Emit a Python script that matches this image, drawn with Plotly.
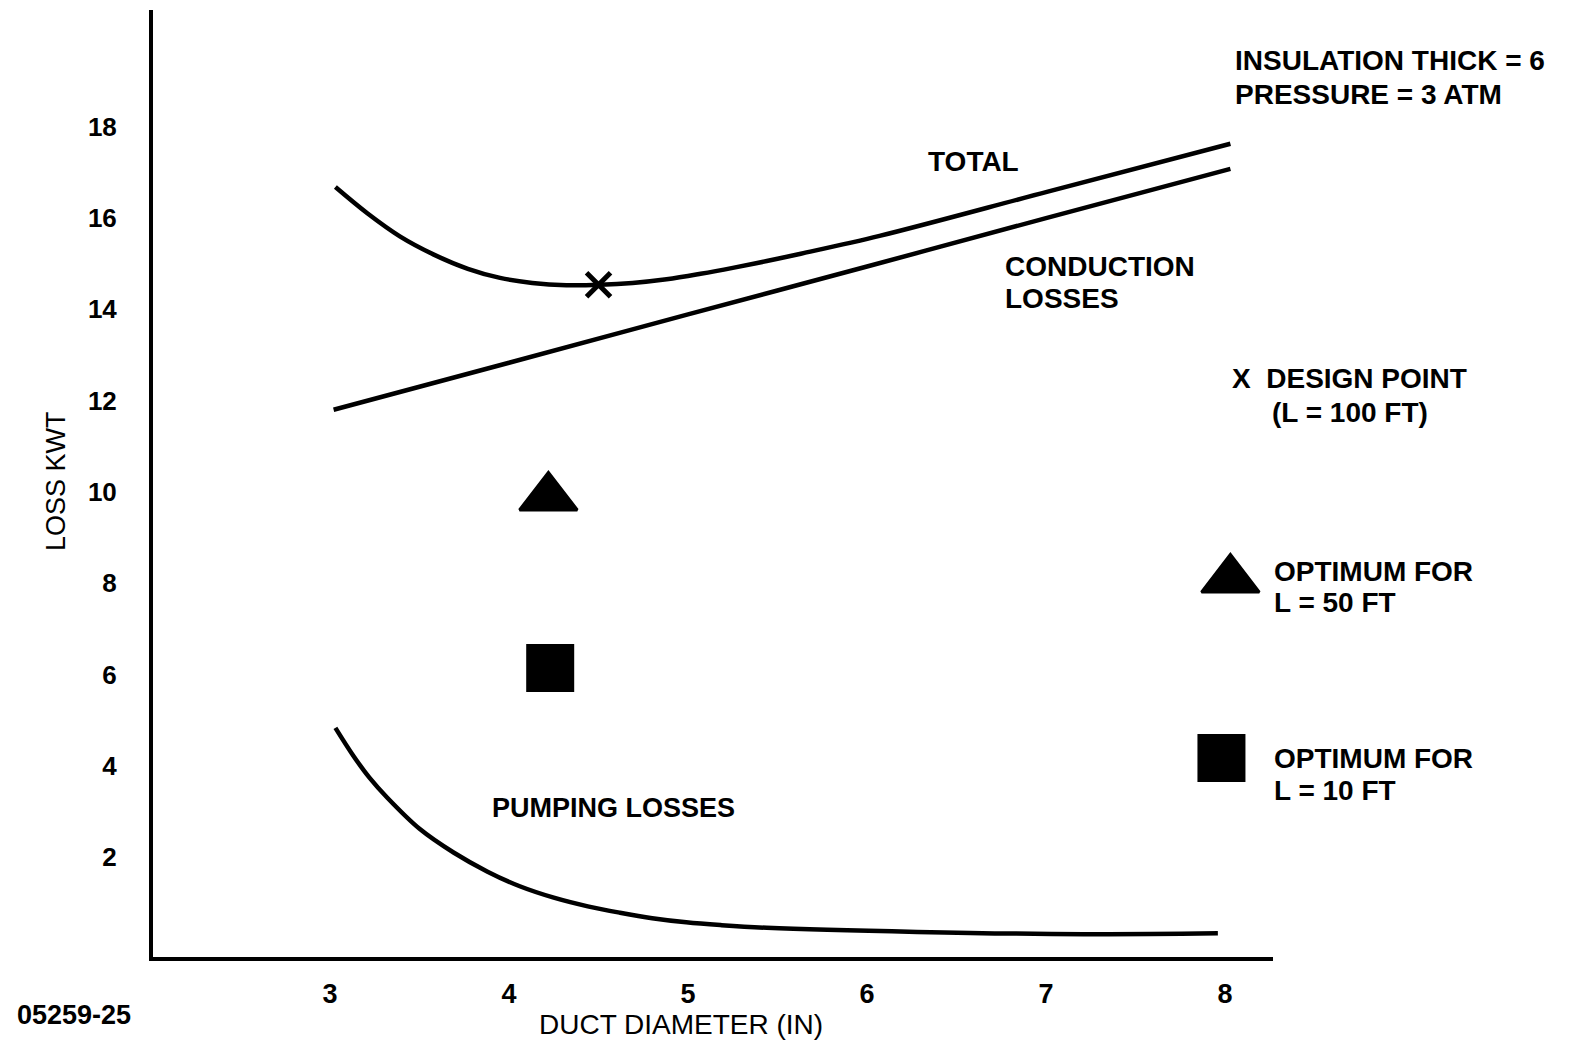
import plotly.graph_objects as go

# ---- data ----
total_x = [3.03, 3.21, 3.39, 3.58, 3.77, 3.95, 4.13, 4.32, 4.51, 4.69, 4.88, 5.07, 5.25, 5.44, 5.63, 6.07, 7.01, 8.03]
total_y = [16.68, 16.10, 15.60, 15.20, 14.89, 14.69, 14.58, 14.53, 14.54, 14.58, 14.66, 14.78, 14.91, 15.06, 15.22, 15.61, 16.58, 17.63]

cond_x = [3.02, 4.0, 5.0, 6.0, 7.0, 8.03]
cond_y = [11.80, 12.83, 13.89, 14.94, 16.00, 17.08]

pump_x = [3.03, 3.13, 3.22, 3.32, 3.50, 3.69, 3.88, 4.06, 4.25, 4.44, 4.62, 4.80, 4.99, 5.18, 5.44, 6.28, 7.21, 7.96]
pump_y = [4.83, 4.22, 3.74, 3.30, 2.62, 2.10, 1.68, 1.36, 1.11, 0.92, 0.78, 0.66, 0.57, 0.51, 0.45, 0.36, 0.31, 0.33]

design_x = [4.50]
design_y = [14.54]
opt50_x = [4.22]
opt50_y = [9.88]
opt10_x = [4.23]
opt10_y = [6.14]

# legend keys
key50_x = [8.03]
key50_y = [8.08]
key10_x = [7.98]
key10_y = [4.17]

x_ticks = [3, 4, 5, 6, 7, 8]
y_ticks = [2, 4, 6, 8, 10, 12, 14, 16, 18]

FONT = "Liberation Sans, Arial, sans-serif"
LW = 4.5

fig = go.Figure()
for xs, ys in [(total_x, total_y), (cond_x, cond_y), (pump_x, pump_y)]:
    fig.add_trace(go.Scatter(x=xs, y=ys, mode="lines",
                             line=dict(color="black", width=LW, shape="spline", smoothing=1.0),
                             showlegend=False, hoverinfo="skip"))

fig.add_trace(go.Scatter(x=design_x, y=design_y, mode="markers",
                         marker=dict(symbol="x-thin", size=24, color="black",
                                     line=dict(color="black", width=5)),
                         showlegend=False, cliponaxis=False))
for xs, ys in [(opt50_x, opt50_y), (key50_x, key50_y)]:
    fig.add_trace(go.Scatter(x=xs, y=ys, mode="markers",
                             marker=dict(symbol="triangle-up", size=50, color="black",
                                         line=dict(color="black", width=3)),
                             showlegend=False, cliponaxis=False))
for xs, ys in [(opt10_x, opt10_y), (key10_x, key10_y)]:
    fig.add_trace(go.Scatter(x=xs, y=ys, mode="markers",
                             marker=dict(symbol="square", size=46, color="black",
                                         line=dict(color="black", width=2)),
                             showlegend=False, cliponaxis=False))

def txt(x, y, s, xanchor="left", size=28, xref="x", yref="y", angle=0):
    fig.add_annotation(x=x, y=y, xref=xref, yref=yref, text=s, showarrow=False,
                       xanchor=xanchor, yanchor="middle", textangle=angle,
                       font=dict(family=FONT, size=size, color="black"))

txt(8.045, 19.45, "<b>INSULATION THICK = 6</b>")
txt(8.045, 18.70, "<b>PRESSURE = 3 ATM</b>")
txt(6.33, 17.25, "<b>TOTAL</b>")
txt(6.76, 14.93, "<b>CONDUCTION</b>")
txt(6.76, 14.23, "<b>LOSSES</b>")
txt(8.03, 12.48, "<b>X  DESIGN POINT</b>")
txt(8.25, 11.75, "<b>(L = 100 FT)</b>")
txt(8.26, 8.25, "<b>OPTIMUM FOR</b>")
txt(8.26, 7.57, "<b>L = 50 FT</b>")
txt(8.26, 4.15, "<b>OPTIMUM FOR</b>")
txt(8.26, 3.45, "<b>L = 10 FT</b>")
txt(3.894, 3.07, "<b>PUMPING LOSSES</b>", size=27)
txt(-0.0866, 0.5026, "LOSS KWT", xanchor="center", size=27, xref="paper", yref="paper", angle=-90)
txt(-0.1232, -0.0612, "<b>05259-25</b>", size=27, xref="paper", yref="paper")
txt(0.4714, -0.0718, "DUCT DIAMETER (IN)", xanchor="center", size=28, xref="paper", yref="paper")

fig.update_layout(
    width=1573, height=1045,
    margin=dict(l=153, r=300, t=10, b=88),
    paper_bgcolor="white", plot_bgcolor="white",
    font=dict(family=FONT, color="black"),
    xaxis=dict(range=[2.011, 8.268], tickvals=x_ticks, ticktext=[f"<b>{v}</b>" for v in x_ticks],
               showgrid=False, zeroline=False, showline=True, linecolor="black", linewidth=4,
               ticks="", ticklabelstandoff=10, tickfont=dict(size=27, family=FONT)),
    yaxis=dict(range=[-0.19, 20.56], tickvals=y_ticks, ticktext=[f"<b>{v}</b>" for v in y_ticks],
               showgrid=False, zeroline=False, showline=True, linecolor="black", linewidth=4,
               ticks="", ticklabelstandoff=27, tickfont=dict(size=26, family=FONT)),
)

fig.write_html("out.html")
